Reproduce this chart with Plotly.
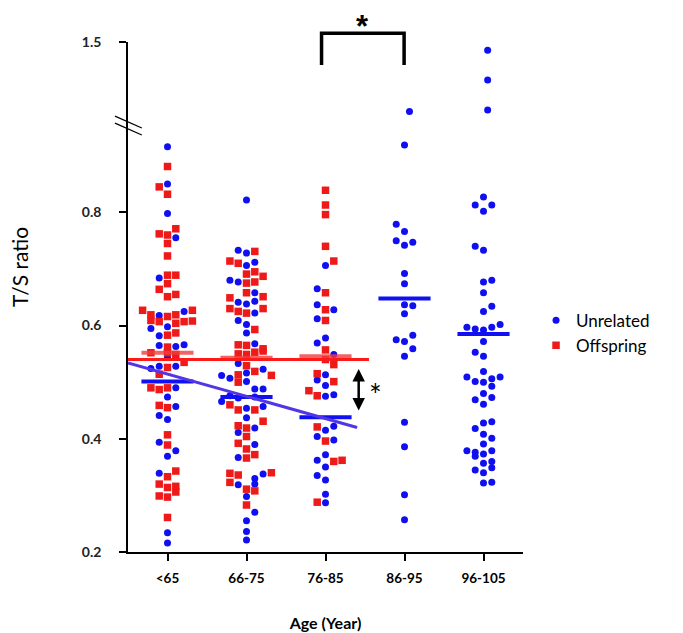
import plotly.graph_objects as go

categories = ['<65', '66-75', '76-85', '86-95', '96-105']

# each point: (T/S ratio, horizontal slot in the dot column)
unrel_lt65 = [(0.916, 0), (0.850, 0), (0.798, 0), (0.755, 1), (0.684, -1), (0.618, -1), (0.625, 2),
              (0.595, -2), (0.598, 0), (0.582, -1), (0.565, -1), (0.563, 1), (0.566, 2), (0.544, 0),
              (0.524, -2), (0.528, -1), (0.528, 1), (0.490, 1), (0.474, 0), (0.457, 1), (0.441, -1),
              (0.434, 0), (0.394, -1), (0.379, 1), (0.369, 0), (0.339, -1), (0.234, 0), (0.216, 0)]
unrel_66_75 = [(0.822, 0), (0.733, -1), (0.728, 0), (0.706, 0), (0.712, 1), (0.680, -2), (0.677, -1),
               (0.658, 1), (0.641, -1), (0.638, 0), (0.643, 1), (0.622, 1), (0.609, -1), (0.602, 0),
               (0.587, 0), (0.568, 1), (0.533, -1), (0.523, 2), (0.512, -3), (0.507, -2), (0.516, 0),
               (0.501, 0), (0.488, 1), (0.488, 2), (0.476, -2), (0.472, -1), (0.474, 1), (0.466, -3),
               (0.454, 0), (0.457, 2), (0.437, 0), (0.419, 1), (0.411, -1), (0.390, 1), (0.367, -1),
               (0.338, 2), (0.330, 1), (0.319, -1), (0.320, 1), (0.298, 0), (0.270, 1), (0.255, 0),
               (0.236, 0), (0.221, 0)]
unrel_76_85 = [(0.706, 0), (0.665, -1), (0.637, -1), (0.628, 1), (0.612, -1), (0.569, -1), (0.578, 0),
               (0.549, 1), (0.513, 0), (0.504, -1), (0.494, 0), (0.475, 0), (0.478, 1), (0.415, 0),
               (0.422, 1), (0.404, -1), (0.398, 1), (0.372, 0), (0.362, -1), (0.350, 0), (0.335, -1),
               (0.327, 0), (0.302, 0), (0.287, 0)]
unrel_86_95 = [(1.030, 0.6), (0.919, 0), (0.779, -1), (0.766, 0), (0.750, -1), (0.742, 0), (0.747, 1),
               (0.692, 0), (0.674, 0), (0.637, 0), (0.635, 1), (0.621, 0), (0.575, -1), (0.572, 0),
               (0.583, 1), (0.559, 1), (0.546, 0), (0.429, 0), (0.386, 0), (0.301, 0), (0.257, 0)]
unrel_96_105 = [(1.445, 0.5), (1.242, 0.5), (1.039, 0.5), (0.827, 0), (0.813, -1), (0.813, 1), (0.802, 0),
                (0.740, -1), (0.733, 0), (0.677, 0), (0.680, 1), (0.658, 0), (0.625, 0), (0.634, 1),
                (0.597, -2), (0.594, -1), (0.592, 0), (0.597, 1), (0.602, 2), (0.572, 0), (0.553, -1),
                (0.546, 0), (0.519, 0), (0.509, -2), (0.501, -1), (0.500, 0), (0.506, 1), (0.509, 2),
                (0.493, 1), (0.480, 0), (0.469, -1), (0.473, 1), (0.461, 0), (0.428, 0), (0.430, 1),
                (0.418, -1), (0.408, 0), (0.401, 1), (0.391, 0), (0.379, -2), (0.376, -1), (0.369, -1),
                (0.373, 0), (0.379, 1), (0.357, 0), (0.360, 1), (0.349, 1), (0.345, -1), (0.340, 0),
                (0.322, 0), (0.323, 1)]

offs_lt65 = [(0.881, 0), (0.845, -1), (0.832, 0), (0.762, -1), (0.760, 0), (0.771, 1), (0.745, 0),
             (0.723, 0), (0.689, 0), (0.689, 1), (0.674, 0), (0.664, -1), (0.651, 0), (0.655, 1),
             (0.627, -3), (0.619, -2), (0.609, -2), (0.607, -1), (0.616, 0), (0.619, 1), (0.627, 3),
             (0.607, 2), (0.608, 3), (0.604, 1), (0.583, 0), (0.587, 1), (0.562, 0), (0.552, -2),
             (0.552, 0), (0.549, 1), (0.535, 2), (0.526, 0), (0.514, -1), (0.490, -2), (0.487, -1),
             (0.490, 0), (0.459, -1), (0.455, 0), (0.407, 0), (0.389, 0), (0.333, 0), (0.343, 1),
             (0.320, -1), (0.314, 0), (0.316, 1), (0.306, 1), (0.299, -1), (0.297, 0), (0.261, 0)]
offs_66_75 = [(0.731, 1), (0.714, -2), (0.710, -1), (0.691, 0), (0.695, 1), (0.687, 2), (0.675, 0),
              (0.677, 1), (0.658, 0), (0.649, -2), (0.651, 2), (0.630, -2), (0.625, -1), (0.622, 0),
              (0.630, 2), (0.593, 1), (0.566, -1), (0.565, 0), (0.559, 2), (0.550, -1), (0.553, 1),
              (0.555, 2), (0.549, 0), (0.529, 0), (0.513, -1), (0.519, 1), (0.512, 3), (0.500, -1),
              (0.460, -2), (0.451, -1), (0.451, 1), (0.431, 2), (0.423, -1), (0.419, 0), (0.404, 0),
              (0.392, -1), (0.382, 0), (0.372, 1), (0.366, 0), (0.339, -2), (0.336, -1), (0.340, 3),
              (0.323, -2), (0.311, 0), (0.308, 1), (0.283, 0)]
offs_76_85 = [(0.839, 0), (0.813, 0), (0.796, 0), (0.740, 0), (0.714, 1), (0.658, 0), (0.628, 0),
              (0.609, 0), (0.557, 0), (0.540, 0), (0.531, 1), (0.515, -1), (0.501, 1), (0.485, -2),
              (0.476, -1), (0.421, -1), (0.396, 0), (0.360, 1), (0.362, 2), (0.288, -1)]

unrel_means = [0.501, 0.474, 0.438, 0.648, 0.585]
offs_means = [0.552, 0.543, 0.546]

# age trend lines (x in category units)
unrel_fit_x = [-0.5, 2.4]
unrel_fit_y = [0.534, 0.420]
offs_fit_x = [-0.5, 2.55]
offs_fit_y = [0.540, 0.540]

# broken y axis: everything above BREAK is squeezed
BREAK = 0.96
SQUEEZE = 0.261
SLOT = 0.105
HALF_BAR = 0.33


def to_axis(v):
    return v if v <= BREAK else BREAK + (v - BREAK) * SQUEEZE


def column(groups):
    xs, ys = [], []
    for i, pts in enumerate(groups):
        for v, s in pts:
            xs.append(i + s * SLOT)
            ys.append(to_axis(v))
    return xs, ys


ux, uy = column([unrel_lt65, unrel_66_75, unrel_76_85, unrel_86_95, unrel_96_105])
ox, oy = column([offs_lt65, offs_66_75, offs_76_85])

BLUE = '#0f0ff0'
RED = '#ee1a1a'

fig = go.Figure()
fig.add_trace(go.Scatter(x=ux, y=uy, mode='markers', name='Unrelated',
                         marker=dict(symbol='circle', size=7, color=BLUE)))
fig.add_trace(go.Scatter(x=ox, y=oy, mode='markers', name='Offspring',
                         marker=dict(symbol='square', size=7.5, color=RED)))

# group means
for i, m in enumerate(offs_means):
    fig.add_trace(go.Scatter(x=[i - HALF_BAR, i + HALF_BAR], y=[m, m], mode='lines', showlegend=False,
                             line=dict(color='rgba(240,60,60,0.8)', width=4), hoverinfo='skip'))
for i, m in enumerate(unrel_means):
    fig.add_trace(go.Scatter(x=[i - HALF_BAR, i + HALF_BAR], y=[m, m], mode='lines', showlegend=False,
                             line=dict(color='#1010f0', width=4), hoverinfo='skip'))

# trend lines
fig.add_trace(go.Scatter(x=unrel_fit_x, y=unrel_fit_y, mode='lines', showlegend=False,
                         line=dict(color='#5236e6', width=3), hoverinfo='skip'))
fig.add_trace(go.Scatter(x=offs_fit_x, y=offs_fit_y, mode='lines', showlegend=False,
                         line=dict(color='#ff1a1a', width=3), hoverinfo='skip'))

# significance marks
fig.add_annotation(x=2.42, y=0.450, ax=2.42, ay=0.526, xref='x', yref='y', axref='x', ayref='y',
                   text='', showarrow=True, arrowhead=2, arrowside='end+start', arrowsize=1,
                   arrowwidth=2.5, arrowcolor='black')
fig.add_annotation(x=2.52, y=0.480, xref='x', yref='y', text='*', showarrow=False, xanchor='left',
                   font=dict(size=30, color='black', family='Lato'))
fig.add_shape(type='path', xref='paper', yref='paper', path='M 0.490 0.955 L 0.490 1.017 L 0.699 1.017 L 0.699 0.955',
              line=dict(color='black', width=3.5))
fig.add_annotation(x=0.594, y=1.0667, xref='paper', yref='paper', text='<b>*</b>', showarrow=False,
                   xanchor='center', yanchor='top', borderpad=0,
                   font=dict(size=31, color='black', family='Liberation Sans'))

# axis break marks
for dy in (0, 0.0137):
    fig.add_shape(type='line', xref='paper', yref='paper', x0=-0.033, x1=0.035,
                  y0=0.841 + dy, y1=0.8176 + dy, line=dict(color='black', width=1.2))

# y axis title
fig.add_annotation(x=-0.2734, y=0.559, xref='paper', yref='paper', text='T/S ratio', textangle=-90,
                   showarrow=False, xanchor='center', yanchor='middle', borderpad=0,
                   font=dict(size=21, color='black', family='Lato'))

fig.update_layout(
    width=683, height=633,
    margin=dict(l=120, r=168, t=34, b=89),
    plot_bgcolor='white', paper_bgcolor='white',
    font=dict(family='Lato', color='black'),
    showlegend=True,
    legend=dict(x=1.033, y=0.429, xanchor='left', yanchor='middle', font=dict(size=17),
                bgcolor='rgba(0,0,0,0)'),
    xaxis=dict(range=[-0.5, 4.5], tickvals=list(range(len(categories))), ticktext=categories,
               showline=True, linecolor='black', linewidth=1.5, ticks='outside', ticklen=7,
               tickwidth=1.5, tickcolor='black', showgrid=False, zeroline=False,
               tickfont=dict(size=13.5, weight='bold'), ticklabelstandoff=6,
               title=dict(text='Age (Year)', font=dict(size=16, weight='bold'), standoff=33)),
    yaxis=dict(range=[0.2, to_axis(1.5)], tickvals=[0.2, 0.4, 0.6, 0.8, to_axis(1.5)],
               ticktext=['0.2', '0.4', '0.6', '0.8', '1.5'],
               showline=True, linecolor='black', linewidth=1.5, ticks='outside', ticklen=7,
               tickwidth=1.5, tickcolor='black', showgrid=False, zeroline=False,
               tickfont=dict(size=14, weight='bold', color='#222'), ticklabelstandoff=15),
)

fig.write_html('out.html')
